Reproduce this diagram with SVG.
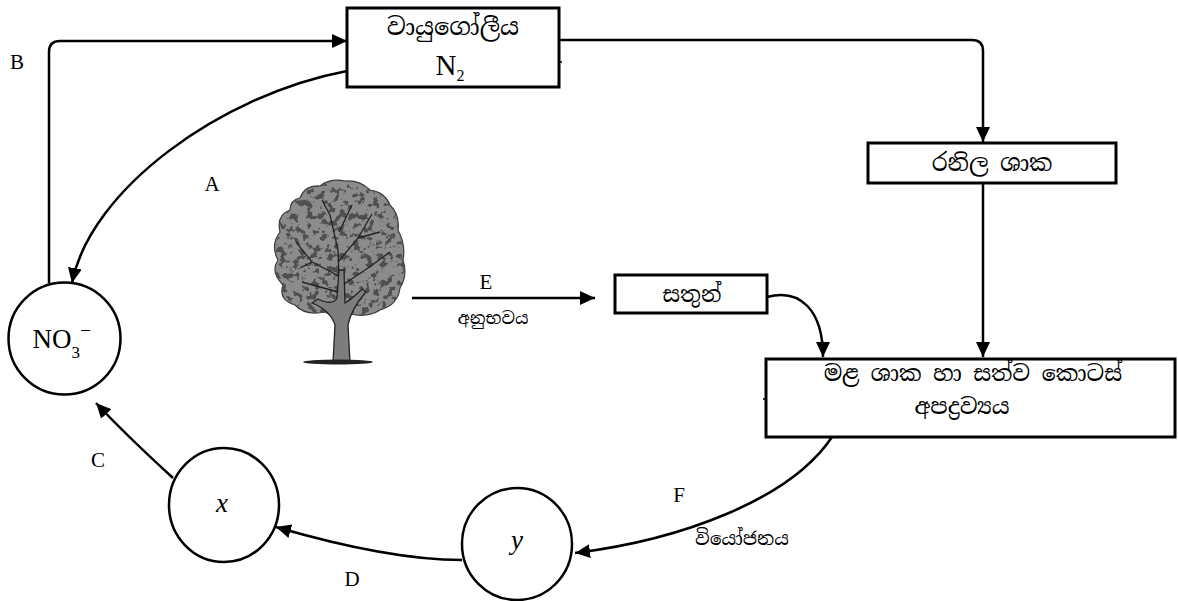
<svg xmlns="http://www.w3.org/2000/svg" width="1178" height="601" viewBox="0 0 1178 601">
<style>
.box{fill:#fff;stroke:#000;stroke-width:3}
.circ{fill:#fff;stroke:#000;stroke-width:2.5}
.con{fill:none;stroke:#000;stroke-width:2.5}
.tick{fill:none;stroke:#000;stroke-width:1.5}
.lat{font-family:"Liberation Serif","Times New Roman",serif;fill:#000;text-anchor:middle}
.sin{font-family:"Noto Serif Sinhala","Noto Sans Sinhala","Iskoola Pota","Noto Sans","DejaVu Sans",sans-serif;fill:#000;text-anchor:middle}
</style>
<defs>
<marker id="ah" markerUnits="userSpaceOnUse" markerWidth="16" markerHeight="14" refX="15" refY="7" orient="auto">
<path d="M0,0 L15,7 L0,14 z" fill="#000"/>
</marker>
<filter id="speck" x="0" y="0" width="100%" height="100%">
<feTurbulence type="fractalNoise" baseFrequency="0.15" numOctaves="3" seed="7" result="n"/>
<feColorMatrix in="n" type="matrix" values="0 0 0 0 0.08  0 0 0 0 0.08  0 0 0 0 0.08  -11 0 0 0 5.2" result="d"/>
<feComposite in="d" in2="SourceGraphic" operator="in"/>
</filter>
<path id="canopy" d="M300,198 Q305,185 320,186 Q330,178 345,181 Q360,180 370,190 Q385,192 390,205 Q400,215 398,230 Q406,245 403,260 Q408,275 400,288 Q398,305 380,310 Q368,318 350,314 Q338,320 325,312 Q305,316 295,305 Q278,300 283,285 Q270,272 278,260 Q270,245 280,232 Q276,215 290,210 Q290,200 300,198 Z"/>
</defs>
<rect width="1178" height="601" fill="#fff"/>

<g id="connectors">
<path class="con" d="M49,283 V52 Q49,41 60,41 H347" marker-end="url(#ah)"/>
<path class="con" d="M559,40 H972 Q983,40 983,51 V142" marker-end="url(#ah)"/>
<path class="con" d="M347,71 C220,95 90,190 72,283" marker-end="url(#ah)"/>
<path class="con" d="M983,183 V357" marker-end="url(#ah)"/>
<path class="con" d="M412,298 H595" marker-end="url(#ah)"/>
<path class="con" d="M767,297 C800,288 823,310 823,357" marker-end="url(#ah)"/>
<path class="con" d="M832,437 C790,500 680,540 575,553" marker-end="url(#ah)"/>
<path class="con" d="M462,560 Q389,560 276,527" marker-end="url(#ah)"/>
<path class="con" d="M173,478 Q125,434 96,403" marker-end="url(#ah)"/>
</g>

<g id="atmosphere">
<rect class="box" x="347" y="8" width="212" height="79"/>
<path class="tick" d="M559,62 H562"/>
<text class="sin" x="453" y="35" font-size="24">වායුගෝලීය</text>
<text class="lat" x="450" y="75" font-size="29">N<tspan font-size="16" dy="6">2</tspan></text>
</g>

<g id="legumes">
<rect class="box" x="868" y="143" width="248" height="40"/>
<text class="sin" x="992" y="171" font-size="23">රනිල ශාක</text>
</g>

<g id="animals">
<rect class="box" x="615" y="275" width="152" height="38"/>
<text class="sin" x="692" y="302" font-size="22">සතුන්</text>
</g>

<g id="dead">
<rect class="box" x="766" y="359" width="409" height="78"/>
<path class="tick" d="M763,399 H766"/>
<text class="sin" x="973" y="381" font-size="22.5">මළ ශාක හා සත්ව කොටස්</text>
<text class="sin" x="962" y="414" font-size="22.5">අපද්‍රව්‍යය</text>
</g>

<g id="nitrate">
<ellipse class="circ" cx="64.5" cy="338.5" rx="56" ry="56"/>
<text class="lat" x="62" y="348" font-size="27">NO<tspan font-size="17" dy="10">3</tspan><tspan font-size="20" dy="-21">−</tspan></text>
</g>

<g id="x">
<ellipse class="circ" cx="224" cy="505" rx="55" ry="57"/>
<text class="lat" x="222" y="512" font-size="27" font-style="italic">x</text>
</g>

<g id="y">
<ellipse class="circ" cx="517" cy="544" rx="55" ry="56"/>
<text class="lat" x="517" y="549" font-size="27" font-style="italic">y</text>
</g>

<g id="labels">
<text class="lat" x="17" y="69" font-size="21">B</text>
<text class="lat" x="212" y="191" font-size="21">A</text>
<text class="lat" x="486" y="289" font-size="21">E</text>
<text class="sin" x="493" y="324" font-size="17">අනුභවය</text>
<text class="lat" x="98" y="467" font-size="21">C</text>
<text class="lat" x="352" y="586" font-size="21">D</text>
<text class="lat" x="679" y="502" font-size="21">F</text>
<text class="sin" x="742" y="545" font-size="18.5">වියෝජනය</text>
</g>

<g id="tree">
<use href="#canopy" fill="#8c8c8c" stroke="#3a3a3a" stroke-width="1.2"/>
<use href="#canopy" fill="#000" filter="url(#speck)"/>
<g fill="none" stroke="#222" stroke-width="1.3">
<path d="M340,300 L338,250 L330,215 L322,200"/>
<path d="M338,262 L358,238 L372,214"/>
<path d="M339,276 L312,262 L296,242"/>
<path d="M341,286 L368,268 L390,252"/>
<path d="M339,232 L352,205"/>
<path d="M338,292 L302,282"/>
<path d="M358,238 L380,232"/>
<path d="M312,262 L300,268"/>
</g>
<path d="M333,362 L335,325 Q330,310 312,303 L318,299 Q333,306 337,298 L339,270 L344,270 L345,303 Q352,299 362,289 L366,292 Q351,309 348,325 L350,362 Z" fill="#7d7d7d" stroke="#222" stroke-width="1.3"/>
<ellipse cx="338" cy="362" rx="35" ry="2.5" fill="#222"/>
</g>
</svg>
